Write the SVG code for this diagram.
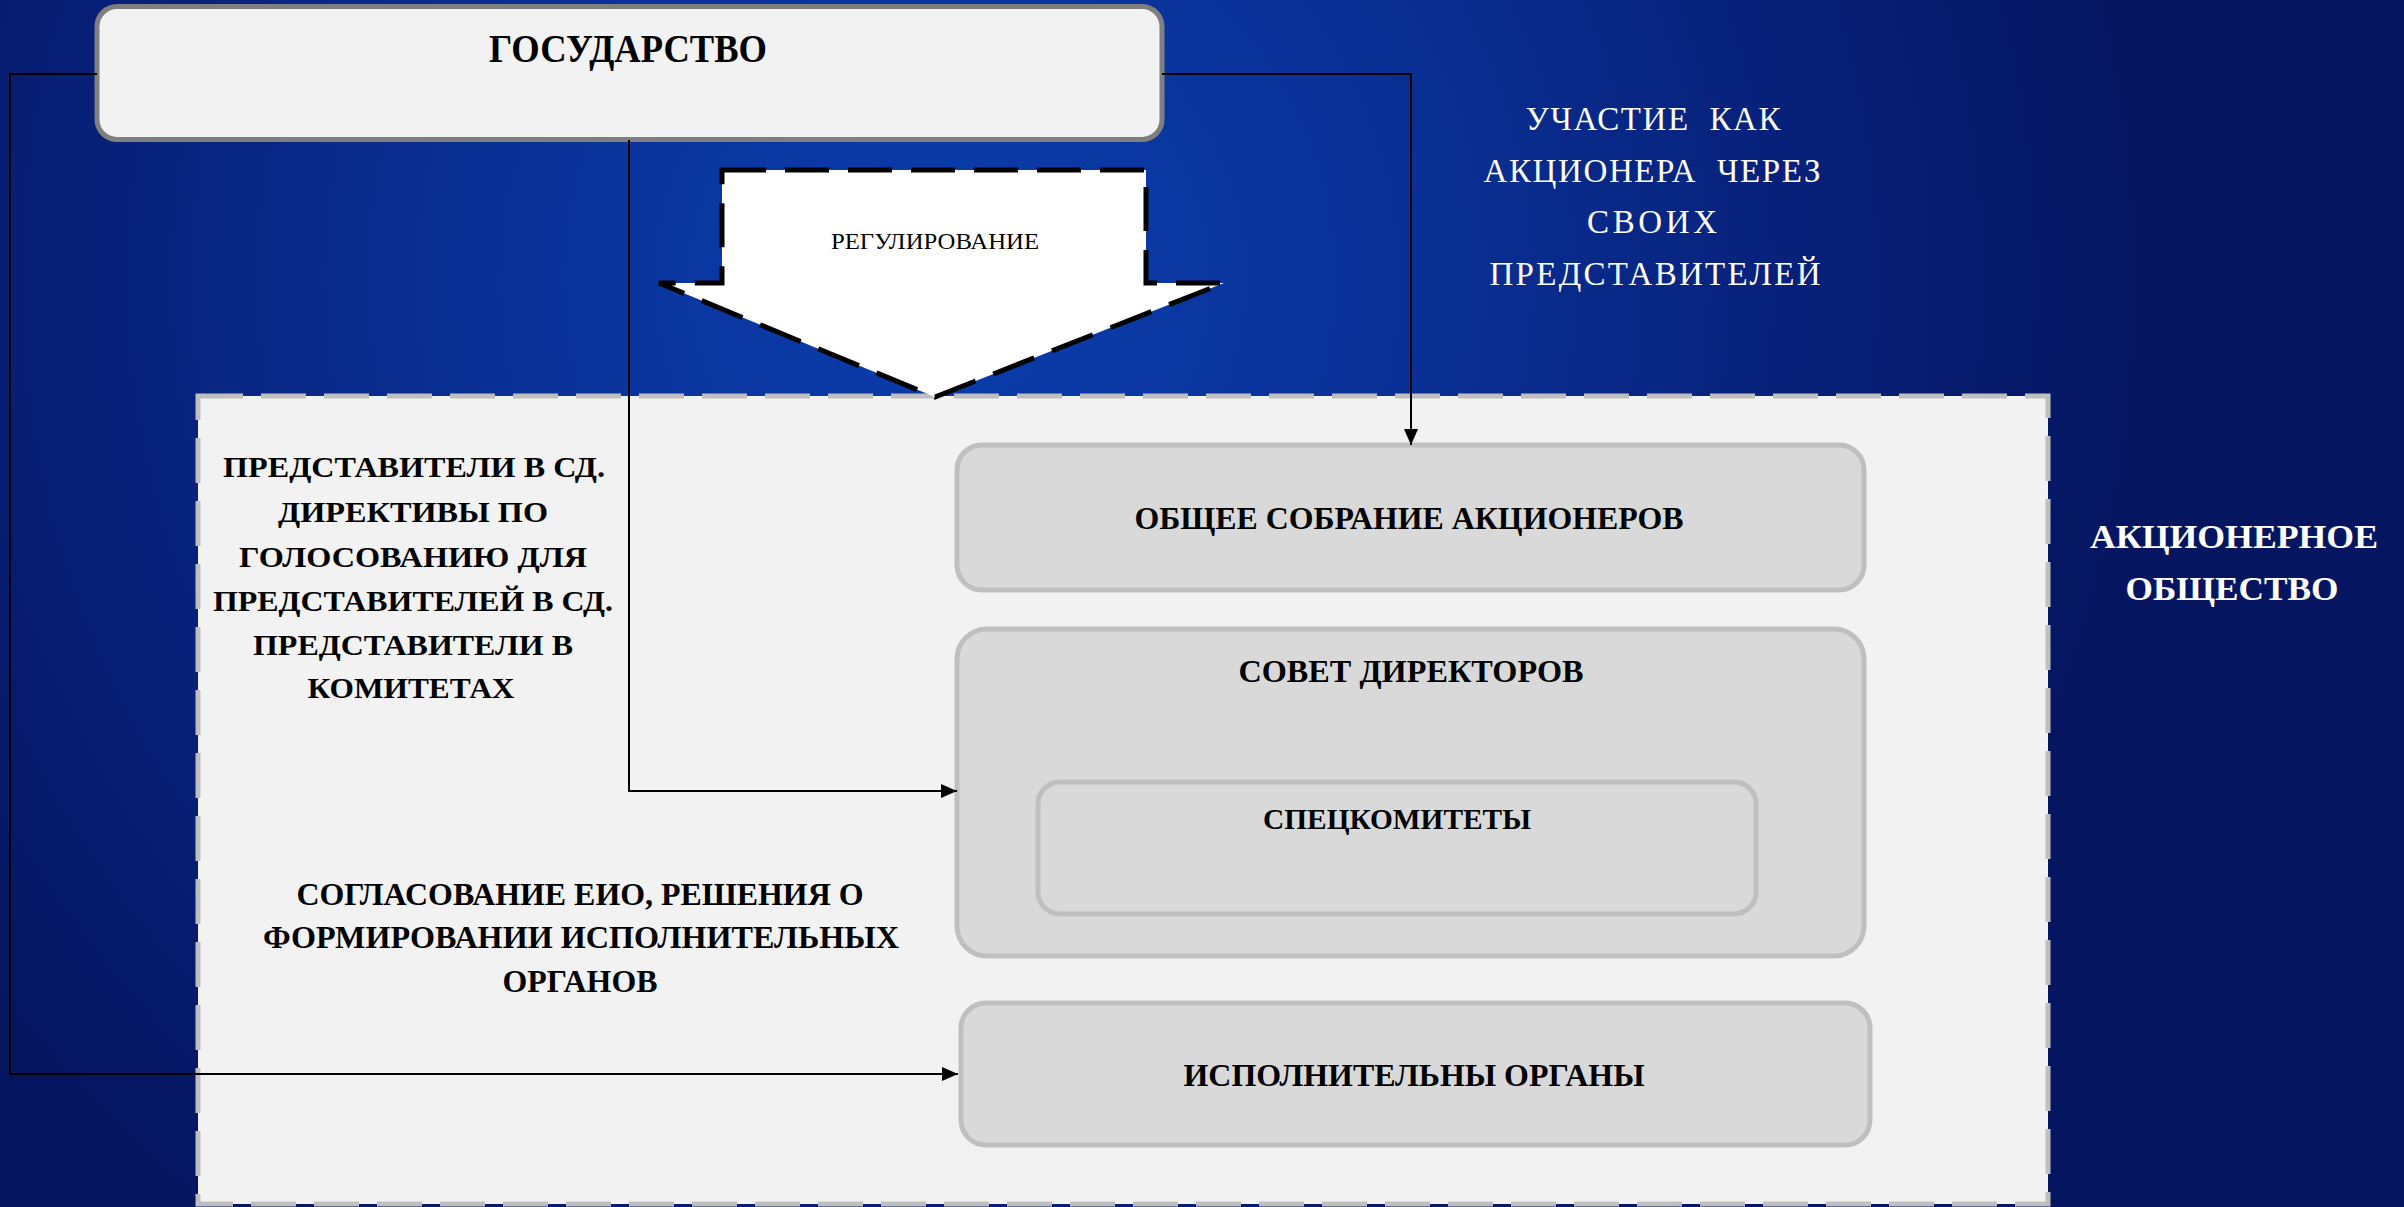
<svg xmlns="http://www.w3.org/2000/svg" width="2404" height="1207" viewBox="0 0 2404 1207">
<defs>
<radialGradient id="bg" gradientUnits="userSpaceOnUse" cx="950" cy="280" r="1200">
<stop offset="0" stop-color="#0b3dac"/>
<stop offset="0.35" stop-color="#0a3299"/>
<stop offset="0.7" stop-color="#07217a"/>
<stop offset="1" stop-color="#051560"/>
</radialGradient>
<marker id="ah" markerUnits="userSpaceOnUse" markerWidth="17" markerHeight="14" refX="16" refY="7" orient="auto">
<path d="M0,0 L16,7 L0,14 Z" fill="#000"/>
</marker>
<style>
.bt{font-family:"Liberation Serif","Times New Roman",serif;font-weight:bold;text-anchor:middle;fill:#000}
.wt{font-family:"Liberation Serif","Times New Roman",serif;text-anchor:middle;fill:#fff;white-space:pre}
.wb{font-family:"Liberation Serif","Times New Roman",serif;font-weight:bold;text-anchor:middle;fill:#fff}
.node{fill:#d9d9d9;stroke:#bfbfbf;stroke-width:5}
.conn{fill:none;stroke:#000;stroke-width:2}
</style>
</defs>
<rect x="0" y="0" width="2404" height="1207" fill="url(#bg)"/>

<g id="joint-stock-company">
<rect x="198" y="396" width="1850" height="808" fill="#f2f2f2" stroke="#bfbfbf" stroke-width="5" stroke-dasharray="45 18"/>
</g>

<g id="label-participation">
<text class="wt" font-size="33" x="1653" y="130" textLength="255" lengthAdjust="spacing">УЧАСТИЕ  КАК</text>
<text class="wt" font-size="33" x="1652" y="182" textLength="337" lengthAdjust="spacing">АКЦИОНЕРА  ЧЕРЕЗ</text>
<text class="wt" font-size="33" x="1652" y="233" textLength="130" lengthAdjust="spacing">СВОИХ</text>
<text class="wt" font-size="33" x="1655" y="285" textLength="331" lengthAdjust="spacing">ПРЕДСТАВИТЕЛЕЙ</text>
</g>

<g id="label-company">
<text class="wb" font-size="34" x="2234" y="548" textLength="288" lengthAdjust="spacingAndGlyphs">АКЦИОНЕРНОЕ</text>
<text class="wb" font-size="34" x="2232" y="600" textLength="213" lengthAdjust="spacingAndGlyphs">ОБЩЕСТВО</text>
</g>

<g id="label-representatives">
<text class="bt" font-size="30" x="414" y="477" textLength="382" lengthAdjust="spacingAndGlyphs">ПРЕДСТАВИТЕЛИ В СД.</text>
<text class="bt" font-size="30" x="413" y="522" textLength="270" lengthAdjust="spacingAndGlyphs">ДИРЕКТИВЫ ПО</text>
<text class="bt" font-size="30" x="413" y="567" textLength="348" lengthAdjust="spacingAndGlyphs">ГОЛОСОВАНИЮ ДЛЯ</text>
<text class="bt" font-size="30" x="413" y="611" textLength="400" lengthAdjust="spacingAndGlyphs">ПРЕДСТАВИТЕЛЕЙ В СД.</text>
<text class="bt" font-size="30" x="413" y="655" textLength="320" lengthAdjust="spacingAndGlyphs">ПРЕДСТАВИТЕЛИ В</text>
<text class="bt" font-size="30" x="411" y="698" textLength="207" lengthAdjust="spacingAndGlyphs">КОМИТЕТАХ</text>
</g>

<g id="label-approval">
<text class="bt" font-size="31" x="580" y="905" textLength="567" lengthAdjust="spacingAndGlyphs">СОГЛАСОВАНИЕ ЕИО, РЕШЕНИЯ О</text>
<text class="bt" font-size="31" x="581" y="948" textLength="636" lengthAdjust="spacingAndGlyphs">ФОРМИРОВАНИИ ИСПОЛНИТЕЛЬНЫХ</text>
<text class="bt" font-size="31" x="580" y="992" textLength="155" lengthAdjust="spacingAndGlyphs">ОРГАНОВ</text>
</g>

<g id="state">
<rect x="97" y="6.5" width="1065" height="133" rx="20" fill="#f2f2f2" stroke="#7f7f7f" stroke-width="5"/>
<text class="bt" font-size="40" x="628" y="62" textLength="278" lengthAdjust="spacingAndGlyphs">ГОСУДАРСТВО</text>
</g>

<g id="regulation">
<path d="M722,170 L1146,170 L1146,283 L1224,283 L935,397 L659,283 L722,283 Z" fill="#fff" stroke="#000" stroke-width="5" stroke-dasharray="44 19"/>
<text font-family="Liberation Serif, Times New Roman, serif" font-size="24" text-anchor="middle" fill="#000" x="935" y="249" textLength="208" lengthAdjust="spacingAndGlyphs">РЕГУЛИРОВАНИЕ</text>
</g>

<g id="general-meeting">
<rect class="node" x="957" y="445" width="907" height="145" rx="25"/>
<text class="bt" font-size="31.5" x="1409" y="529" textLength="549" lengthAdjust="spacingAndGlyphs">ОБЩЕЕ СОБРАНИЕ АКЦИОНЕРОВ</text>
</g>

<g id="board">
<rect class="node" x="957" y="629" width="907" height="327" rx="30"/>
<text class="bt" font-size="31.5" x="1411" y="682" textLength="345" lengthAdjust="spacingAndGlyphs">СОВЕТ ДИРЕКТОРОВ</text>
</g>

<g id="committees">
<rect class="node" x="1038" y="782" width="718" height="132" rx="22"/>
<text class="bt" font-size="30" x="1397" y="829" textLength="268" lengthAdjust="spacingAndGlyphs">СПЕЦКОМИТЕТЫ</text>
</g>

<g id="executive">
<rect class="node" x="961" y="1003" width="909" height="142" rx="25"/>
<text class="bt" font-size="31.5" x="1414" y="1086" textLength="461" lengthAdjust="spacingAndGlyphs">ИСПОЛНИТЕЛЬНЫ ОРГАНЫ</text>
</g>

<g id="connectors">
<polyline class="conn" points="97,74 10,74 10,1074 958,1074" marker-end="url(#ah)"/>
<polyline class="conn" points="629,140 629,791 957,791" marker-end="url(#ah)"/>
<polyline class="conn" points="1162,74 1411,74 1411,445" marker-end="url(#ah)"/>
</g>
</svg>
